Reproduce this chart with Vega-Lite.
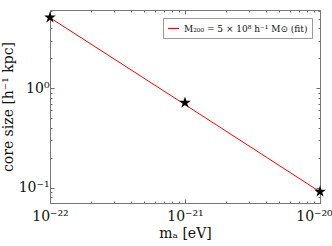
{
  "$schema": "https://vega.github.io/schema/vega-lite/v6.json",
  "width": 270,
  "height": 193,
  "autosize": "none",
  "padding": {"left": 50, "top": 10, "right": 12, "bottom": 43},
  "background": "white",
  "config": {
    "view": {"stroke": null},
    "font": "DejaVu Serif",
    "axis": {
      "domainColor": "#777",
      "tickColor": "#444",
      "tickWidth": 0.8,
      "grid": false,
      "labelFont": "DejaVu Serif",
      "titleFont": "DejaVu Serif",
      "labelColor": "#111",
      "titleColor": "#111",
      "titleFontWeight": "normal",
      "labelFontSize": 14,
      "titleFontSize": 14
    }
  },
  "datasets": {
    "stars": [
      {"m": 1e-22, "core": 5.15},
      {"m": 1e-21, "core": 0.717},
      {"m": 1e-20, "core": 0.0914}
    ],
    "fit": [
      {"m": 1e-22, "core": 5.12, "series": "M₂₀₀ = 5 × 10⁸ h⁻¹ M⊙ (fit)"},
      {"m": 1e-21, "core": 0.685, "series": "M₂₀₀ = 5 × 10⁸ h⁻¹ M⊙ (fit)"},
      {"m": 1e-20, "core": 0.091, "series": "M₂₀₀ = 5 × 10⁸ h⁻¹ M⊙ (fit)"}
    ]
  },
  "resolve": {"axis": {"x": "independent", "y": "independent"}},
  "layer": [
    {
      "data": {"name": "fit"},
      "mark": {"type": "line", "strokeWidth": 1},
      "encoding": {
        "x": {
          "field": "m", "type": "quantitative",
          "scale": {"type": "log", "domain": [1e-22, 1e-20], "nice": false},
          "axis": {
            "orient": "bottom",
            "title": "mₐ [eV]",
            "titlePadding": 1,
            "values": [1e-22, 2e-22, 3e-22, 4e-22, 5e-22, 6e-22, 7e-22, 8e-22, 9e-22, 1e-21, 2e-21, 3e-21, 4e-21, 5e-21, 6e-21, 7e-21, 8e-21, 9e-21, 1e-20],
            "labelExpr": "datum.value < 1.5e-22 ? '10⁻²²' : (datum.value > 0.95e-21 && datum.value < 1.05e-21 ? '10⁻²¹' : (datum.value > 0.95e-20 ? '10⁻²⁰' : ''))",
            "tickSize": {"condition": {"test": "abs(log(datum.value)/LN10 - round(log(datum.value)/LN10)) < 0.01", "value": -4}, "value": -2},
            "labelOffset": {"condition": {"test": "datum.value > 5e-21", "value": -6}, "value": 0},
            "labelPadding": 10,
            "labelFlush": false,
            "labelOverlap": false
          }
        },
        "y": {
          "field": "core", "type": "quantitative",
          "scale": {"type": "log", "domain": [0.0703, 6.12], "nice": false},
          "axis": {
            "orient": "left",
            "title": "core size [h⁻¹ kpc]",
            "titlePadding": 3,
            "values": [0.08, 0.09, 0.1, 0.2, 0.3, 0.4, 0.5, 0.6, 0.7, 0.8, 0.9, 1, 2, 3, 4, 5, 6],
            "labelExpr": "datum.value == 1 ? '10⁰' : (abs(datum.value - 0.1) < 1e-9 ? '10⁻¹' : '')",
            "tickSize": {"condition": {"test": "abs(log(datum.value)/LN10 - round(log(datum.value)/LN10)) < 0.01", "value": -4}, "value": -2},
            "labelPadding": 5,
            "labelOverlap": false,
            "labelFlush": false
          }
        },
        "color": {
          "field": "series", "type": "nominal",
          "scale": {"range": ["#ff0000"]},
          "legend": {
            "title": null,
            "orient": "top-right",
            "offset": 8,
            "symbolType": "stroke",
            "symbolSize": 120,
            "symbolStrokeWidth": 1.2,
            "labelFont": "DejaVu Serif",
            "labelFontSize": 9,
            "labelColor": "#111",
            "strokeColor": "#999",
            "fillColor": "white",
            "padding": 4,
            "cornerRadius": 0
          }
        }
      }
    },
    {
      "data": {"name": "stars"},
      "mark": {"type": "point", "filled": true, "color": "black", "opacity": 1, "size": 150,
        "shape": "M0,-1L0.2245,-0.309L0.951,-0.309L0.363,0.118L0.588,0.809L0,0.382L-0.588,0.809L-0.363,0.118L-0.951,-0.309L-0.2245,-0.309Z"},
      "encoding": {
        "x": {
          "field": "m", "type": "quantitative",
          "axis": {
            "orient": "top", "title": null, "labels": false,
            "values": [1e-22, 2e-22, 3e-22, 4e-22, 5e-22, 6e-22, 7e-22, 8e-22, 9e-22, 1e-21, 2e-21, 3e-21, 4e-21, 5e-21, 6e-21, 7e-21, 8e-21, 9e-21, 1e-20],
            "tickSize": {"condition": {"test": "abs(log(datum.value)/LN10 - round(log(datum.value)/LN10)) < 0.01", "value": -4}, "value": -2}
          }
        },
        "y": {
          "field": "core", "type": "quantitative",
          "axis": {
            "orient": "right", "title": null, "labels": false,
            "values": [0.08, 0.09, 0.1, 0.2, 0.3, 0.4, 0.5, 0.6, 0.7, 0.8, 0.9, 1, 2, 3, 4, 5, 6],
            "tickSize": {"condition": {"test": "abs(log(datum.value)/LN10 - round(log(datum.value)/LN10)) < 0.01", "value": -4}, "value": -2}
          }
        }
      }
    }
  ]
}
